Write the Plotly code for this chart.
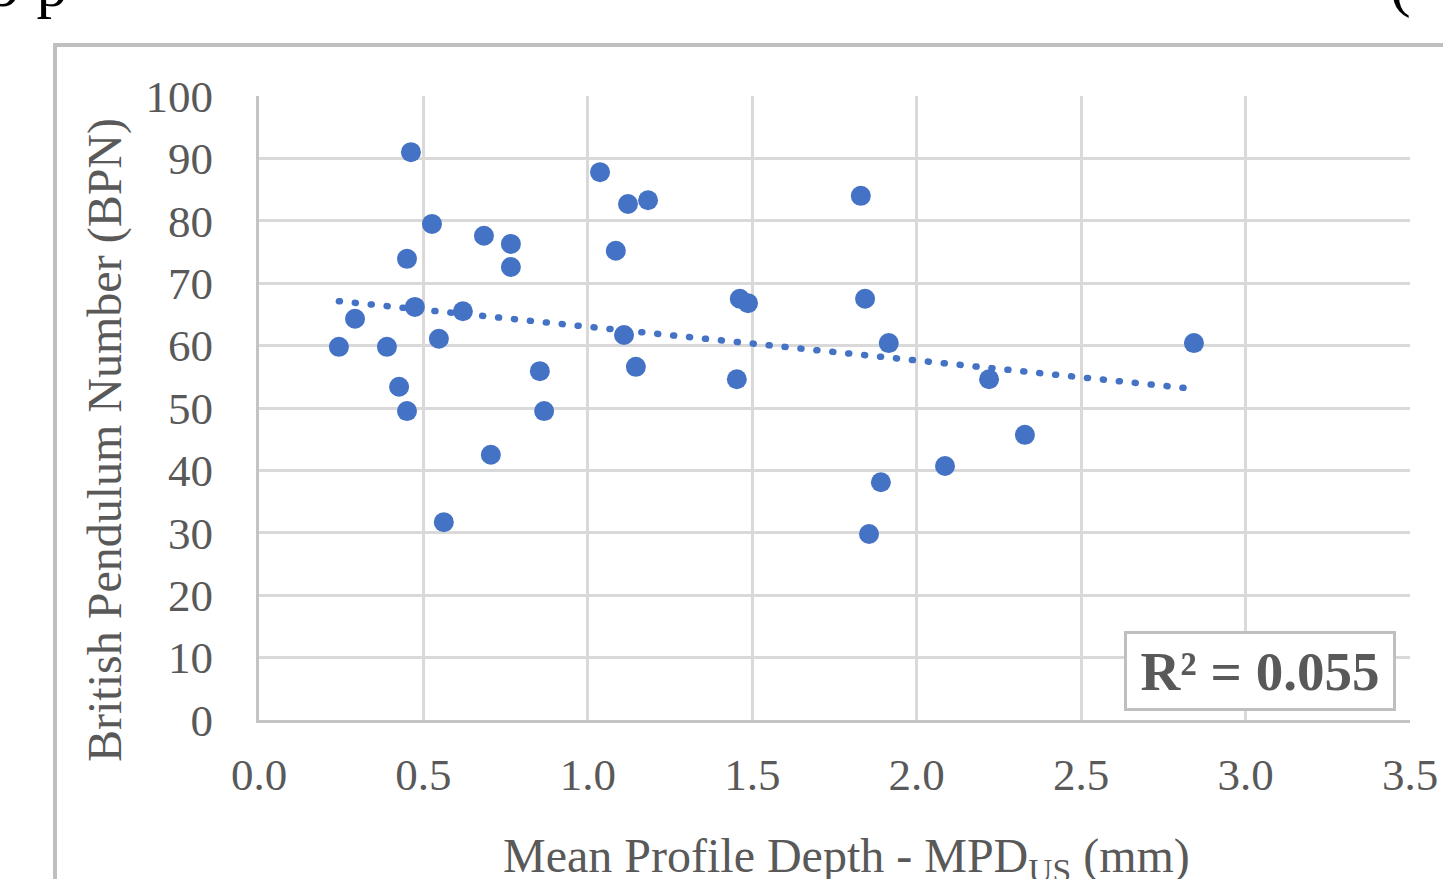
import numpy as np
import plotly.graph_objects as go

# mean profile depth (mm) and BPN
mpd = [0.243, 0.292, 0.389, 0.426, 0.450, 0.450, 0.462, 0.474, 0.526, 0.547,
       0.562, 0.620, 0.684, 0.705, 0.766, 0.766, 0.854, 0.867, 1.037, 1.085,
       1.110, 1.122, 1.146, 1.183, 1.453, 1.462, 1.487, 1.830, 1.843, 1.855,
       1.891, 1.915, 2.086, 2.220, 2.329, 2.843]
bpn = [59.8, 64.3, 59.8, 53.4, 73.9, 49.5, 91.0, 66.2, 79.5, 61.1,
       31.7, 65.5, 77.6, 42.5, 76.3, 72.6, 55.9, 49.5, 87.8, 75.2,
       61.7, 82.7, 56.6, 83.3, 54.6, 67.5, 66.8, 84.0, 67.5, 29.8,
       38.1, 60.4, 40.7, 54.6, 45.7, 60.4]
x_ticks = [0.0, 0.5, 1.0, 1.5, 2.0, 2.5, 3.0, 3.5]
y_ticks = [0, 10, 20, 30, 40, 50, 60, 70, 80, 90, 100]
r2_label = "R² = 0.055"

BLUE = "#4472C4"
GREY_TXT = "#595959"
SERIF = "Liberation Serif, Times New Roman, serif"

# linear trendline, like Excel's
slope, icpt = np.polyfit(mpd, bpn, 1)
trend_x = [min(mpd), max(mpd)]
trend_y = [slope * v + icpt for v in trend_x]

fig = go.Figure()
fig.add_trace(go.Scatter(x=mpd, y=bpn, mode="markers",
                         marker=dict(color=BLUE, size=20, line=dict(width=0)),
                         hoverinfo="skip"))
fig.add_trace(go.Scatter(x=trend_x, y=trend_y, mode="lines",
                         line=dict(color=BLUE, width=6.5, dash="1px,15px"),
                         hoverinfo="skip"))

axis_common = dict(showgrid=True, gridcolor="#d9d9d9", gridwidth=2.5,
                   zeroline=False, showline=True, linecolor="#c4c4c4", linewidth=3,
                   ticks="", tickfont=dict(family=SERIF, size=45, color=GREY_TXT),
                   automargin=False, fixedrange=True)

fig.update_xaxes(range=[0, 3.5], tickvals=x_ticks,
                 ticktext=["%.1f" % v for v in x_ticks],
                 ticklabelstandoff=13, **axis_common)
fig.update_yaxes(range=[0, 100], tickvals=y_ticks,
                 ticklabelstandoff=34, **axis_common)

W, H = 1443, 879
L, R, T, B = 259, 33, 96, 159
pw, ph = W - L - R, H - T - B


def px_x(p):
    return (p - L) / pw


def px_y(p):
    return (H - B - p) / ph


annotations = [
    dict(text="British Pendulum Number (BPN)", textangle=-90,
         x=px_x(105), y=px_y(440), xanchor="center", yanchor="middle",
         font=dict(family=SERIF, size=48, color=GREY_TXT)),
    dict(text="Mean Profile Depth - MPD<sub>US</sub> (mm)",
         x=px_x(846), y=px_y(827), xanchor="center", yanchor="top",
         font=dict(family=SERIF, size=48, color=GREY_TXT)),
    dict(text="<b>" + r2_label + "</b>",
         x=px_x(1260), y=px_y(671), xanchor="center", yanchor="middle",
         width=262, height=70, borderpad=2,
         bordercolor="#bfbfbf", borderwidth=3, bgcolor="white",
         font=dict(family=SERIF, size=55, color=GREY_TXT)),
    # bits of the surrounding page text cut off at the top
    dict(text="9 p", x=px_x(-12), y=px_y(-15), xanchor="left", yanchor="middle",
         font=dict(family=SERIF, size=62, color="black")),
    dict(text="(", x=px_x(1388), y=px_y(-15), xanchor="left", yanchor="middle",
         font=dict(family=SERIF, size=62, color="black")),
]
for a in annotations:
    a.update(xref="paper", yref="paper", showarrow=False)

fig.update_layout(
    width=W, height=H,
    margin=dict(l=L, r=R, t=T, b=B),
    paper_bgcolor="white", plot_bgcolor="white",
    showlegend=False,
    annotations=annotations,
    shapes=[dict(type="rect", xref="paper", yref="paper",
                 x0=px_x(55), x1=px_x(1500), y0=px_y(950), y1=px_y(45),
                 line=dict(color="#bfbfbf", width=4), layer="below")],
)

js = ("document.body.style.margin='0';"
      "document.querySelectorAll('path.js-line').forEach(function(p){p.style.strokeLinecap='round';});")
fig.write_html("out.html", post_script=js, config={"displayModeBar": False})
